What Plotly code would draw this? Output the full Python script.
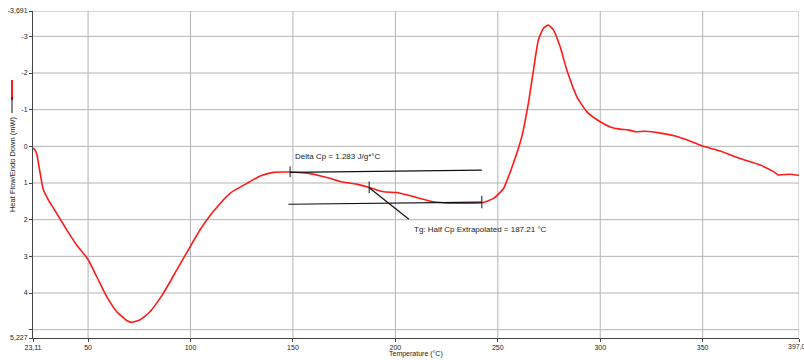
import plotly.graph_objects as go

# DSC heat-flow trace (temperature in °C, heat flow in mW, endo down)
temperature = [23.11, 24.0, 25.0, 26.5, 28.1, 30.6, 34.7, 39.6, 44.4, 47.7, 50.1, 54.2,
               59.1, 64.0, 68.9, 71.3, 75.4, 80.2, 86.7, 93.3, 99.8, 104.6, 111.1,
               119.3, 127.5, 134.0, 140.4, 148.6, 156.8, 163.0, 168.1, 173.0, 181.1,
               187.7, 194.2, 200.7, 208.8, 218.6, 226.7, 236.5, 242.2, 247.9, 252.8,
               257.6, 261.7, 264.9, 267.4, 269.8, 272.3, 274.7, 277.2, 280.4, 283.7,
               288.6, 293.5, 300.0, 304.9, 309.7, 313.6, 317.0, 322.0, 329.3, 336.6,
               344.0, 350.3, 358.5, 368.3, 378.1, 384.6, 387.0, 392.7, 397.0]
heat_flow = [0.05, 0.09, 0.22, 0.70, 1.17, 1.46, 1.83, 2.28, 2.69, 2.92, 3.10, 3.55,
             4.10, 4.51, 4.75, 4.80, 4.73, 4.51, 4.01, 3.37, 2.74, 2.28, 1.78,
             1.28, 1.01, 0.81, 0.71, 0.70, 0.73, 0.80, 0.87, 0.96, 1.03,
             1.13, 1.24, 1.26, 1.37, 1.51, 1.55, 1.55, 1.54, 1.42, 1.15,
             0.46, -0.26, -1.17, -2.08, -2.90, -3.22, -3.31, -3.17, -2.72, -2.08,
             -1.35, -0.94, -0.67, -0.53, -0.47, -0.45, -0.40, -0.41, -0.36, -0.28,
             -0.14, 0.00, 0.13, 0.33, 0.51, 0.69, 0.78, 0.76, 0.79]

# glass-transition analysis
tg_onset = 148.6
tg_end = 242.2
tg_half_cp = 187.21
tg_half_cp_flow = 1.13
delta_cp = 1.283
upper_baseline = [0.71, 0.65]
lower_baseline = [1.58, 1.52]

# axis limits and ticks
x_min, x_max = 23.11, 397.02
y_min, y_max = -3.691, 5.227
x_tickvals = [x_min, 50, 100, 150, 200, 250, 300, 350, x_max]
x_ticktext = ["23,11", "50", "100", "150", "200", "250", "300", "350", ""]
x_end_label = "397,02"
y_tickvals = [y_max, 5, 4, 3, 2, 1, 0, -1, -2, -3, y_min]
y_ticktext = ["5,227", "", "4", "3", "2", "1", "0", "-1", "-2", "-3", "-3,691"]
y_grid = [5, 4, 3, 2, 1, 0, -1, -2, -3, y_min]
x_grid = [50, 100, 150, 200, 250, 300, 350, x_max]

FONT = "Liberation Sans, Arial, sans-serif"
GRID = "#b4b4b4"
INK = "#222222"

fig = go.Figure()

fig.add_trace(go.Scatter(
    x=temperature, y=heat_flow, mode="lines",
    line=dict(color="#ff1a1a", width=1.6, shape="spline", smoothing=0.5),
    hoverinfo="skip", showlegend=False,
))

# baselines extrapolated across the transition
fig.add_trace(go.Scatter(
    x=[tg_onset, tg_end], y=upper_baseline, mode="lines",
    line=dict(color="#111111", width=1.2), showlegend=False, hoverinfo="skip",
))
fig.add_trace(go.Scatter(
    x=[tg_onset - 0.8, tg_end], y=lower_baseline, mode="lines",
    line=dict(color="#111111", width=1.2), showlegend=False, hoverinfo="skip",
))

shapes = []
for gx in x_grid:
    shapes.append(dict(type="line", xref="x", yref="y", x0=gx, x1=gx, y0=y_min, y1=y_max,
                       line=dict(color=GRID, width=1), layer="below"))
for gy in y_grid:
    shapes.append(dict(type="line", xref="x", yref="y", x0=x_min, x1=x_max, y0=gy, y1=gy,
                       line=dict(color=GRID, width=1), layer="below"))

# small vertical markers: onset, half-Cp point, end
for mx, y0, y1 in [(tg_onset, 0.55, 0.84), (tg_half_cp, 0.96, 1.28), (tg_end, 1.35, 1.69)]:
    shapes.append(dict(type="line", xref="x", yref="y", x0=mx, x1=mx, y0=y0, y1=y1,
                       line=dict(color="#111111", width=1)))

# leader from the half-Cp point to its label
shapes.append(dict(type="line", xref="x", yref="y", x0=tg_half_cp, y0=tg_half_cp_flow,
                   x1=206.6, y1=1.99, line=dict(color="#111111", width=1.2)))

# series key beside the y-axis title
shapes.append(dict(type="line", xref="paper", yref="paper", x0=-0.0274, x1=-0.0274,
                   y0=0.728, y1=0.789, line=dict(color="#ff1a1a", width=2)))
shapes.append(dict(type="line", xref="paper", yref="paper", x0=-0.0274, x1=-0.0274,
                   y0=0.688, y1=0.737, line=dict(color="#111111", width=1)))

annotations = [
    dict(x=150.2, y=0.28, xref="x", yref="y", text=f"Delta Cp = {delta_cp} J/g*°C",
         showarrow=False, xanchor="left", yanchor="middle",
         font=dict(family=FONT, size=8, color=INK)),
    dict(x=207.9, y=2.26, xref="x", yref="y",
         text=f"Tg: Half Cp Extrapolated = {tg_half_cp} °C",
         showarrow=False, xanchor="left", yanchor="middle",
         font=dict(family=FONT, size=8, color=INK)),
    dict(x=-0.0274, y=0.532, xref="paper", yref="paper", text="Heat Flow/Endo Down (mW)",
         textangle=-90, showarrow=False, xanchor="center", yanchor="middle",
         font=dict(family=FONT, size=7.5, color=INK)),
    dict(x=0.5, y=-0.049, xref="paper", yref="paper", text="Temperature (°C)",
         showarrow=False, xanchor="center", yanchor="middle",
         font=dict(family=FONT, size=7, color=INK)),
    # end-of-range label sits on the right edge
    dict(x=x_max, y=-0.027, xref="x", yref="paper", text=x_end_label,
         showarrow=False, xanchor="center", yanchor="middle",
         font=dict(family=FONT, size=7, color=INK)),
]

fig.update_layout(
    width=804, height=360,
    margin=dict(l=33, r=5, t=11, b=22),
    paper_bgcolor="white", plot_bgcolor="white",
    shapes=shapes, annotations=annotations,
    showlegend=False,
    font=dict(family=FONT, size=7, color=INK),
)
fig.update_xaxes(
    range=[x_min, x_max], tickmode="array", tickvals=x_tickvals, ticktext=x_ticktext,
    showgrid=False, zeroline=False, showline=True, linecolor="#444444", linewidth=1,
    ticks="outside", ticklen=3, tickcolor="#444444", tickangle=0,
    tickfont=dict(family=FONT, size=7, color=INK), automargin=False,
)
fig.update_yaxes(
    range=[y_max, y_min], tickmode="array", tickvals=y_tickvals, ticktext=y_ticktext,
    showgrid=False, zeroline=False, showline=True, linecolor="#444444", linewidth=1,
    ticks="outside", ticklen=3, tickcolor="#444444",
    tickfont=dict(family=FONT, size=7, color=INK), automargin=False,
)

fig.write_html("out.html")
